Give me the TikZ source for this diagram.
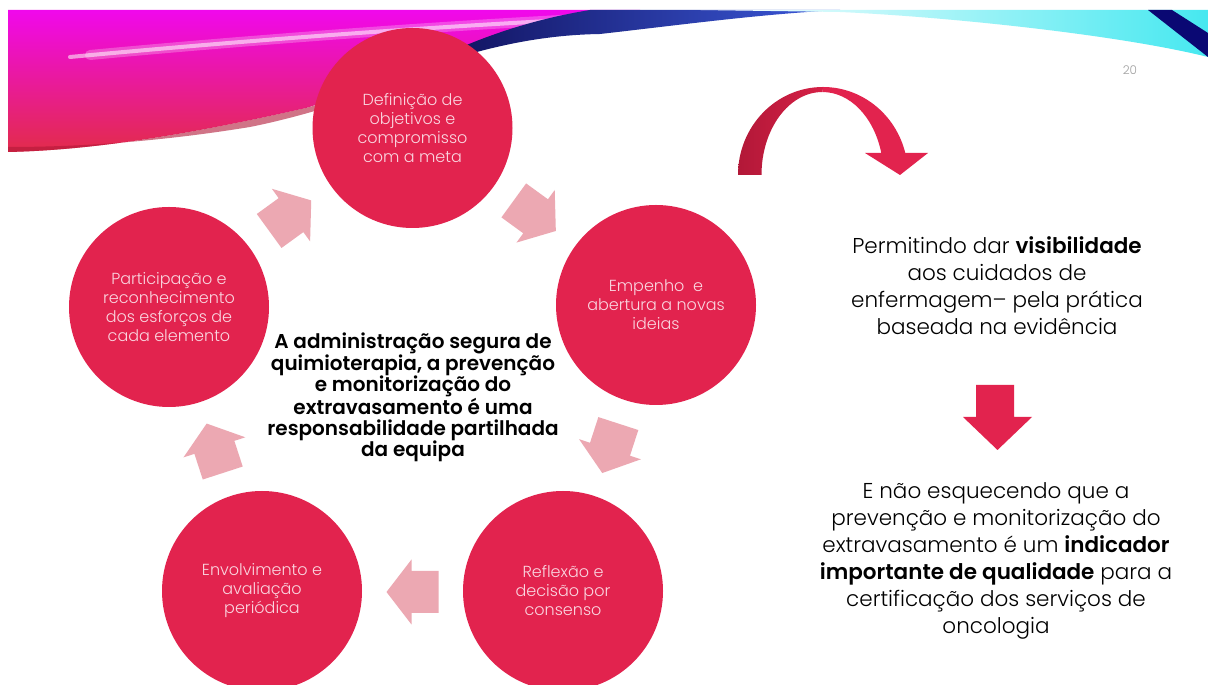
\documentclass[tikz,border=0pt]{standalone}
\usepackage{fontspec}
\setmainfont{Poppins}[UprightFont=* Light, BoldFont=* SemiBold]
\definecolor{circred}{RGB}{226,35,78}
\definecolor{circtext}{RGB}{250,214,224}
\definecolor{arrowpink}{RGB}{236,168,178}
\definecolor{darkred}{RGB}{178,24,56}
\definecolor{midred}{RGB}{214,32,70}
\definecolor{magenta1}{RGB}{240,8,236}
\definecolor{hotpink}{RGB}{240,30,150}
\definecolor{redpink}{RGB}{226,44,74}
\definecolor{navy}{RGB}{12,10,80}
\definecolor{blue1}{RGB}{60,90,220}
\definecolor{cyan1}{RGB}{70,232,240}
\definecolor{numgray}{RGB}{160,160,160}
\newcommand\cycarrow[3]{\fill[arrowpink, shift={(#1,#2)}, rotate=#3] (-26,-21) -- (1,-21) -- (1,-32.5) -- (26,0) -- (1,32.5) -- (1,21) -- (-26,21) -- cycle;}
\begin{document}
\begin{tikzpicture}[x=1pt,y=1pt,
  circ/.style={circle, fill=circred, minimum size=200pt, inner sep=0pt, text=circtext, align=center, font=\fontsize{16}{19}\selectfont},
  rtext/.style={align=center, text=black, font=\fontsize{21.5}{27}\selectfont},
  ctext/.style={align=center, text=black, font=\fontsize{20}{21}\selectfont\bfseries}]
\useasboundingbox (0,0) rectangle (1208,685);
\fill[white] (0,0) rectangle (1208,685);
% banner: pink swoosh
\shade[top color=magenta1, middle color=hotpink, bottom color=redpink]
  (8,675) -- (640,675) .. controls (540,662) and (420,612) .. (306,577)
  .. controls (200,553) and (100,535) .. (8,533) -- cycle;
\fill[darkred, opacity=0.6] (8,533) .. controls (100,535) and (200,553) .. (306,577)
  .. controls (360,592) and (400,605) .. (430,615) .. controls (390,598) and (320,572) .. (250,558)
  .. controls (170,545) and (90,538) .. (8,538) -- cycle;
\draw[white, line width=10pt, opacity=0.25, line cap=round] (90,630) .. controls (250,645) and (450,660) .. (620,668);
\draw[white, line width=4pt, opacity=0.55, line cap=round] (70,628) .. controls (250,645) and (450,660) .. (630,668);
% navy wedge
\shade[left color=navy, right color=blue1]
  (400,608) .. controls (480,638) and (540,650) .. (600,651)
  .. controls (680,660) and (760,671) .. (840,675) -- (590,675)
  .. controls (510,662) and (450,635) .. (400,608) -- cycle;
% cyan region
\shade[left color=white, right color=cyan1]
  (700,675) -- (1208,675) -- (1208,628) .. controls (1120,650) and (950,668) .. (840,673) -- cycle;
\fill[navy!80!blue] (1148,675) -- (1172,675) -- (1208,652) -- (1208,628) -- cycle;
% slide number
\node[text=numgray, font=\fontsize{12}{12}\selectfont] (num) at (1130,615) {20};
% cycle arrows
\cycarrow{534.8}{469.3}{-36}
\cycarrow{610.3}{236.7}{-108}
\cycarrow{412.5}{93}{180}
\cycarrow{214.7}{236.7}{108}
\cycarrow{290.2}{469.3}{36}
% circles
\node[circ] (c1) at (412.5,557) {Definição de\\objetivos e\\compromisso\\com a meta};
\node[circ] (c2) at (656,380) {Empenho~ e\\abertura a novas\\ideias};
\node[circ] (c3) at (563,94) {Reflexão e\\decisão por\\consenso};
\node[circ] (c4) at (262,94) {Envolvimento e\\avaliação\\periódica};
\node[circ] (c5) at (169,378) {Participação e\\reconhecimento\\dos esforços de\\cada elemento};
% center text
\node[ctext] (center) at (413,288) {A administração segura de\\quimioterapia, a prevenção\\e monitorização do\\extravasamento é uma\\responsabilidade partilhada\\da equipa};
% curved arrow
\shade[left color=darkred, right color=midred]
  (738,510) arc[start angle=180, end angle=90, x radius=85, y radius=88]
  -- (822.5,593) arc[start angle=90, end angle=180, x radius=61, y radius=83] -- cycle;
\fill[circred]
  (823,598) arc[start angle=90, end angle=14.5, x radius=85, y radius=88]
  -- (928,532) -- (900,510) -- (865,532) -- (881.3,532)
  arc[start angle=15.4, end angle=90, x radius=61, y radius=83] -- cycle;
% right texts
\node[rtext] (t1) at (997,399) {Permitindo dar \textbf{visibilidade}\\aos cuidados de\\enfermagem– pela prática\\baseada na evidência};
\fill[circred] (976,300) -- (1014,300) -- (1014,268) -- (1032,268) -- (997.5,235) -- (963,268) -- (976,268) -- cycle;
\node[rtext] (t2) at (996,124) {E não esquecendo que a\\prevenção e monitorização do\\extravasamento é um \textbf{indicador}\\\textbf{importante de qualidade} para a\\certificação dos serviços de\\oncologia};
\end{tikzpicture}
\end{document}
